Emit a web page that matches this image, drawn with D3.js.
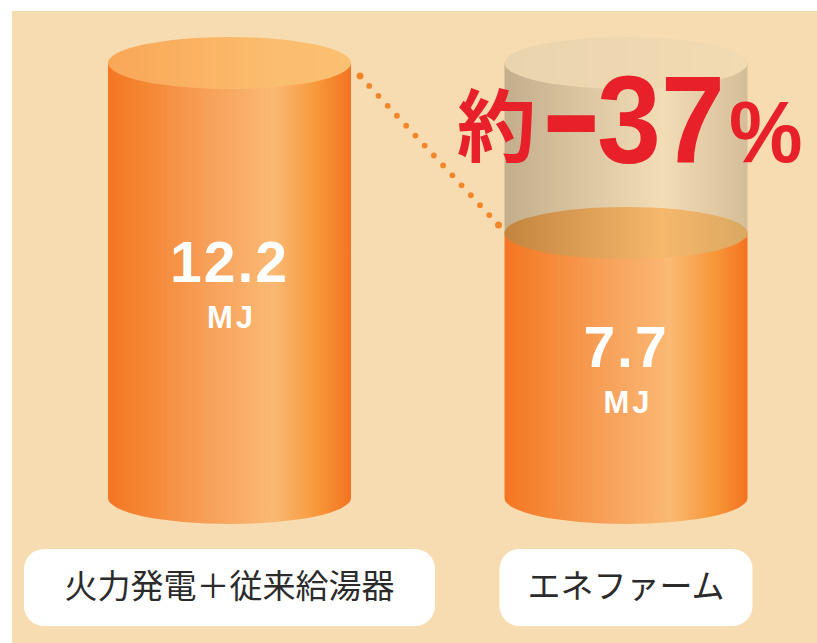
<!DOCTYPE html>
<html>
<head>
<meta charset="utf-8">
<script src="https://cdn.jsdelivr.net/npm/d3@7"></script>
<style>
  html, body { margin: 0; padding: 0; background: #fff; }
  svg { display: block; }
</style>
</head>
<body>
<div id="chart"></div>
<script>
// chart values
const categories = ['火力発電＋従来給湯器', 'エネファーム']
const values = [12.2, 7.7]
const unit = 'MJ'
const approxPrefix = '約'

const width = 817
const height = 643

const svg = d3
  .select('#chart')
  .append('svg')
  .attr('width', width)
  .attr('height', height)

const defs = svg.append('defs')

// horizontal gradients for the cylinders
const addGradient = (id, stops) => {
  const g = defs
    .append('linearGradient')
    .attr('id', id)
    .attr('x1', '0%')
    .attr('y1', '0%')
    .attr('x2', '100%')
    .attr('y2', '0%')
  stops.forEach(([offset, color]) => {
    g.append('stop').attr('offset', offset).attr('stop-color', color)
  })
}

addGradient('body-grad', [
  [0, '#F47524'],
  [0.12, '#F4832F'],
  [0.4, '#F79F58'],
  [0.68, '#FAB974'],
  [0.86, '#F7983A'],
  [1, '#F47322'],
])
addGradient('top-grad', [
  [0, '#F9A757'],
  [0.7, '#FBBD6E'],
  [1, '#FBC070'],
])
addGradient('ghost-grad', [
  [0, '#C3AE8C'],
  [0.65, '#F3DDB6'],
  [1, '#D5BD97'],
])
addGradient('ghost-top-grad', [
  [0, '#EAD4AD'],
  [1, '#F2DBB3'],
])
addGradient('tint-top-grad', [
  [0, '#C3843F'],
  [0.65, '#F6B86B'],
  [1, '#DAA862'],
])

// background panel
svg
  .append('rect')
  .attr('x', 12)
  .attr('y', 11)
  .attr('width', width - 12)
  .attr('height', height - 11)
  .attr('fill', '#F7DCB2')

// scales
const x = d3.scalePoint().domain(categories).range([229.5, 626])
const y = d3.scaleLinear().domain([0, d3.max(values)]).range([524, 63])

const rx = 121.5
const ry = 26
const baseY = y(0) - ry // centre of the bottom ellipse

const bodyPath = (cx, yTop, yBot) =>
  `M${cx - rx},${yTop} L${cx - rx},${yBot} A${rx},${ry} 0 0 0 ${cx + rx},${yBot} L${cx + rx},${yTop} Z`

const cylGroup = svg.append('g').attr('class', 'cylinders')

categories.forEach((cat, i) => {
  const cx = x(cat)
  const yTop = y(values[i])
  const g = cylGroup.append('g').attr('class', 'cylinder')

  // ghost of the larger value behind the smaller one
  if (i > 0) {
    const yMax = y(values[0])
    g.append('path')
      .attr('d', bodyPath(cx, yMax, yTop))
      .attr('fill', 'url(#ghost-grad)')
  }

  g.append('path')
    .attr('d', bodyPath(cx, yTop, baseY))
    .attr('fill', 'url(#body-grad)')

  g.append('ellipse')
    .attr('cx', cx)
    .attr('cy', yTop)
    .attr('rx', rx)
    .attr('ry', ry)
    .attr('fill', i > 0 ? 'url(#tint-top-grad)' : 'url(#top-grad)')

  if (i > 0) {
    g.append('ellipse')
      .attr('cx', cx)
      .attr('cy', y(values[0]))
      .attr('rx', rx)
      .attr('ry', ry)
      .attr('fill', 'url(#ghost-top-grad)')
  }

  // value labels
  const mid = (yTop + baseY) / 2
  g.append('text')
    .attr('x', cx)
    .attr('y', mid + 1)
    .attr('text-anchor', 'middle')
    .attr('font-family', 'Liberation Sans, Arial, sans-serif')
    .attr('font-weight', 'bold')
    .attr('font-size', 57)
    .attr('letter-spacing', 2)
    .attr('fill', '#fff')
    .text(d3.format('.1f')(values[i]))

  g.append('text')
    .attr('x', cx + 2)
    .attr('y', mid + 47)
    .attr('text-anchor', 'middle')
    .attr('font-family', 'Liberation Sans, Arial, sans-serif')
    .attr('font-weight', 'bold')
    .attr('font-size', 31)
    .attr('letter-spacing', 3)
    .attr('fill', '#fff')
    .text(unit)
})

// dotted connector between the two tops
const p0 = [x(categories[0]) + rx + 9, y(values[0]) + 13]
const p1 = [x(categories[1]) - rx - 6, y(values[1]) - 8]
const nDots = 16
svg
  .append('g')
  .attr('class', 'connector')
  .selectAll('circle')
  .data(d3.range(nDots))
  .enter()
  .append('circle')
  .attr('cx', (d) => p0[0] + ((p1[0] - p0[0]) * d) / (nDots - 1))
  .attr('cy', (d) => p0[1] + ((p1[1] - p0[1]) * d) / (nDots - 1))
  .attr('r', (d) => (d === 0 || d === nDots - 1 ? 3.5 : 2.9))
  .attr('fill', '#F4862A')

// reduction callout
const change = Math.round(((values[1] - values[0]) / values[0]) * 100)
const callout = svg.append('g').attr('class', 'callout').attr('fill', '#E8202A')
const cx1 = x(categories[1])

callout
  .append('text')
  .attr('x', cx1 - 169)
  .attr('y', 156)
  .attr('font-family', 'Noto Sans CJK JP, sans-serif')
  .attr('font-weight', 'bold')
  .attr('font-size', 79)
  .text(approxPrefix)

// the minus sign: fit its ink box into the wanted rectangle
const ctx = document.createElement('canvas').getContext('2d')
ctx.font = 'bold 100px "Liberation Sans", Arial, sans-serif'
const m = ctx.measureText('-')
const inkL = -m.actualBoundingBoxLeft
const inkW = m.actualBoundingBoxRight + m.actualBoundingBoxLeft
const inkTop = -m.actualBoundingBoxAscent
const inkH = m.actualBoundingBoxAscent + m.actualBoundingBoxDescent
const dash = { x0: cx1 - 80, x1: cx1 - 30, y0: 115, y1: 132 }
const sx = (dash.x1 - dash.x0) / inkW
const sy = (dash.y1 - dash.y0) / inkH
callout
  .append('text')
  .attr('transform', `translate(${dash.x0 - inkL * sx},${dash.y0 - inkTop * sy}) scale(${sx},${sy})`)
  .attr('font-family', 'Liberation Sans, Arial, sans-serif')
  .attr('font-weight', 'bold')
  .attr('font-size', 100)
  .text('-')

callout
  .append('text')
  .attr('transform', `translate(${cx1 - 29},163) scale(0.92,1)`)
  .attr('font-family', 'Liberation Sans, Arial, sans-serif')
  .attr('font-weight', 'bold')
  .attr('font-size', 125)
  .text(Math.abs(change))

callout
  .append('text')
  .attr('transform', `translate(${cx1 + 103},162) scale(0.94,1)`)
  .attr('font-family', 'Liberation Sans, Arial, sans-serif')
  .attr('font-weight', 'bold')
  .attr('font-size', 88)
  .text('%')

// category label boxes
const boxWidths = [411, 253]
const labelGroup = svg.append('g').attr('class', 'labels')
categories.forEach((cat, i) => {
  const g = labelGroup.append('g')
  g.append('rect')
    .attr('x', x(cat) - boxWidths[i] / 2)
    .attr('y', 549)
    .attr('width', boxWidths[i])
    .attr('height', 77)
    .attr('rx', 20)
    .attr('fill', '#fff')
  g.append('text')
    .attr('x', x(cat))
    .attr('y', 598)
    .attr('text-anchor', 'middle')
    .attr('font-family', 'Noto Sans CJK JP, sans-serif')
    .attr('font-weight', 400)
    .attr('font-size', 33)
    .attr('fill', '#2b2b2b')
    .text(cat)
})
</script>
</body>
</html>
